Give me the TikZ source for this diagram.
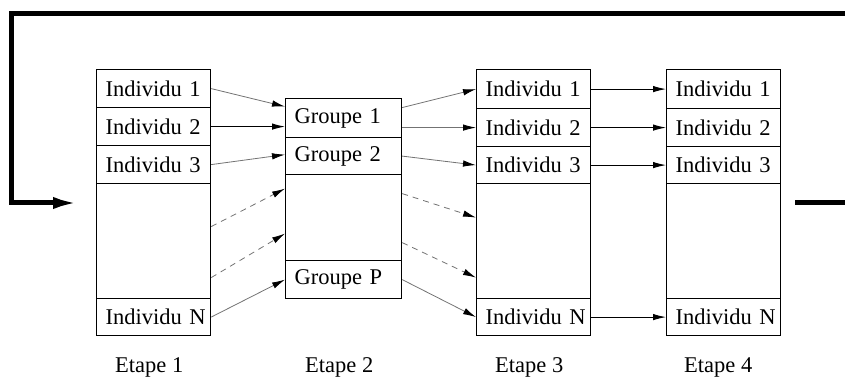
\documentclass[tikz,border=0pt]{standalone}
\usepackage{fontspec}
\setmainfont{Liberation Serif}
\usetikzlibrary{arrows.meta}
\begin{document}
\begin{tikzpicture}[x=1pt,y=-1pt,
  every node/.style={font=\fontsize{22.5}{27}\selectfont},
  cell/.style={draw, line width=1.2pt, anchor=north west, inner ysep=0pt, inner xsep=9pt, text width=96pt, align=left},
  widecell/.style={cell, text width=98pt},
  lbl/.style={anchor=base west, inner sep=0pt},
  grayarrow/.style={draw=black!55, line width=0.8pt, -{Latex[length=13pt,width=6.5pt,color=black]}},
  blackarrow/.style={draw=black, line width=1pt, -{Latex[length=13pt,width=6.5pt]}},
  dasharrow/.style={grayarrow, dash pattern=on 6pt off 5pt},
  loopline/.style={draw=black, line width=5pt},
  looparrow/.style={loopline, -{Latex[length=27pt,width=12pt]}}
]
\useasboundingbox (0,0) rectangle (845,379);
% Column 1
\node[cell, minimum height=38pt] (c1r1) at (96,69) {\rlap{Individu 1}};
\node[cell, minimum height=38pt] (c1r2) at (96,107) {\rlap{Individu 2}};
\node[cell, minimum height=38pt] (c1r3) at (96,145) {\rlap{Individu 3}};
\node[cell, minimum height=115pt] (c1e) at (96,183) {};
\node[cell, minimum height=37pt] (c1rN) at (96,298) {\rlap{Individu N}};
% Column 2
\node[widecell, minimum height=39pt] (c2g1) at (285,98) {\rlap{Groupe 1}};
\node[widecell, minimum height=37pt] (c2g2) at (285,137) {\rlap{Groupe 2}};
\node[widecell, minimum height=86pt] (c2e) at (285,174) {};
\node[widecell, minimum height=38pt] (c2gP) at (285,260) {\rlap{Groupe P}};
% Column 3
\node[cell, minimum height=39pt] (c3r1) at (476,69) {\rlap{Individu 1}};
\node[cell, minimum height=38pt] (c3r2) at (476,108) {\rlap{Individu 2}};
\node[cell, minimum height=37pt] (c3r3) at (476,146) {\rlap{Individu 3}};
\node[cell, minimum height=115pt] (c3e) at (476,183) {};
\node[cell, minimum height=37pt] (c3rN) at (476,298) {\rlap{Individu N}};
% Column 4
\node[cell, minimum height=39pt] (c4r1) at (666,69) {\rlap{Individu 1}};
\node[cell, minimum height=38pt] (c4r2) at (666,108) {\rlap{Individu 2}};
\node[cell, minimum height=37pt] (c4r3) at (666,146) {\rlap{Individu 3}};
\node[cell, minimum height=115pt] (c4e) at (666,183) {};
\node[cell, minimum height=37pt] (c4rN) at (666,298) {\rlap{Individu N}};
% Labels
\node[lbl] (e1) at (115,372) {Etape 1};
\node[lbl] (e2) at (305,372) {Etape 2};
\node[lbl] (e3) at (495,372) {Etape 3};
\node[lbl] (e4) at (684,372) {Etape 4};
% Column 1 -> 2
\draw[grayarrow] (c1r1.east) -- ([yshift=11.5pt]c2g1.west);
\draw[blackarrow] (c1r2.east) -- ([yshift=-8.5pt]c2g1.west);
\draw[grayarrow] (c1r3.east) -- ([yshift=1.5pt]c2g2.west);
\draw[dasharrow] ([yshift=14.5pt]c1e.east) -- ([yshift=29pt]c2e.west);
\draw[dasharrow] ([yshift=-36.5pt]c1e.east) -- ([yshift=-16pt]c2e.west);
\draw[grayarrow] (c1rN.east) -- (c2gP.west);
% Column 2 -> 3
\draw[grayarrow] ([yshift=10.5pt]c2g1.east) -- (c3r1.west);
\draw[grayarrow] ([yshift=-9.5pt]c2g1.east) -- (c3r2.west);
\draw[grayarrow] (c2g2.east) -- (c3r3.west);
\draw[dasharrow] ([yshift=24pt]c2e.east) -- ([yshift=23.5pt]c3e.west);
\draw[dasharrow] ([yshift=-25pt]c2e.east) -- ([yshift=-36.5pt]c3e.west);
\draw[grayarrow] (c2gP.east) -- (c3rN.west);
% Column 3 -> 4
\draw[blackarrow] (c3r1.east) -- (c4r1.west);
\draw[blackarrow] (c3r2.east) -- (c4r2.west);
\draw[blackarrow] (c3r3.east) -- (c4r3.west);
\draw[blackarrow] (c3rN.east) -- (c4rN.west);
% Feedback loop
\coordinate (topR) at (850,13.5);
\coordinate (topL) at (11.5,13.5);
\coordinate (botL) at (11.5,203);
\coordinate (inEnd) at (80,203);
\coordinate (outStart) at (795,202.5);
\coordinate (outEnd) at (850,202.5);
\draw[looparrow] (topR) -- (topL) -- (botL) -- (inEnd);
\draw[loopline] (outStart) -- (outEnd);
\end{tikzpicture}
\end{document}
